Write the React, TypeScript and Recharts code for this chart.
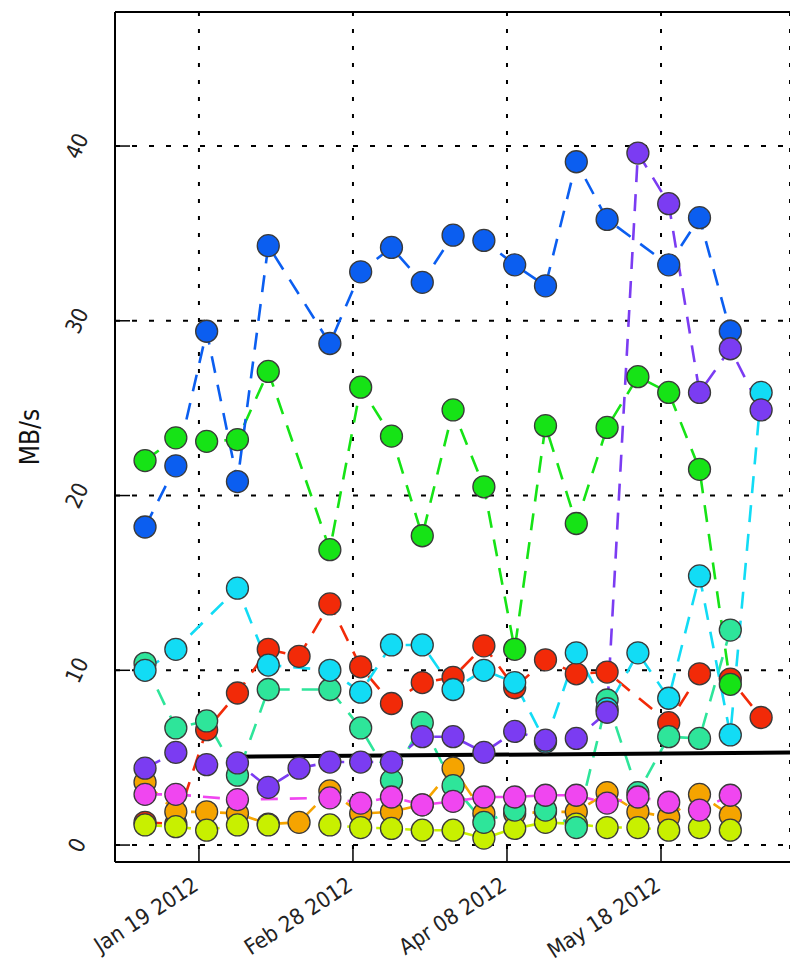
import { LineChart, Line, XAxis, YAxis, CartesianGrid, ReferenceLine } from 'recharts';

const FONT = '"DejaVu Sans Condensed", "Liberation Sans Narrow", "Liberation Sans", sans-serif';

// day of year 2012 (Jan 1 = 0), one sample every 8 days
const days = [4, 12, 20, 28, 36, 44, 52, 60, 68, 76, 84, 92, 100, 108, 116, 124, 132, 140, 148, 156, 164];

const tickDays = [18, 58, 98, 138];
const tickLabels = ['Jan 19 2012', 'Feb 28 2012', 'Apr 08 2012', 'May 18 2012'];
const yTicks = [0, 10, 20, 30, 40];

const red = [1.3, 1.2, 6.6, 8.7, 11.2, 10.8, 13.8, 10.2, 8.1, 9.3, 9.6, 11.4, 9.0, 10.6, 9.8, 9.9, null, 7.0, 9.8, 9.5, 7.3];
const orange = [3.6, 1.9, 1.9, 1.8, 1.2, 1.3, 3.1, 1.8, 1.9, 2.3, 4.4, 1.8, 1.8, 1.9, 1.9, 3.0, 1.9, 1.6, 2.9, 1.7, null];
const yellowGreen = [1.15, 1.05, 0.85, 1.15, 1.15, null, 1.15, 1.0, 0.95, 0.85, 0.85, 0.4, 0.95, 1.3, 1.2, 1.0, 1.0, 0.85, 1.0, 0.85, null];
const mint = [10.4, 6.7, 7.1, 4.0, 8.9, null, 8.9, 6.7, 3.7, 7.0, 3.4, 1.3, 2.0, 2.0, 1.0, 8.3, 3.0, 6.2, 6.1, 12.3, null];
const magenta = [2.9, 2.9, null, 2.6, null, null, 2.7, 2.4, 2.75, 2.3, 2.5, 2.75, 2.75, 2.85, 2.85, 2.4, 2.75, 2.45, 2.0, 2.85, null];
const cyan = [10.0, 11.2, null, 14.7, 10.3, null, 10.0, 8.75, 11.45, 11.45, 8.9, 10.0, 9.3, 5.9, 11.0, 7.8, 11.0, 8.4, 15.4, 6.3, 25.9];
const green = [22.0, 23.3, 23.1, 23.2, 27.1, null, 16.9, 26.2, 23.4, 17.7, 24.9, 20.5, 11.2, 24.0, 18.4, 23.9, 26.8, 25.9, 21.5, 9.2, null];
const blue = [18.2, 21.7, 29.4, 20.8, 34.3, null, 28.7, 32.8, 34.2, 32.2, 34.9, 34.6, 33.2, 32.0, 39.1, 35.8, null, 33.2, 35.9, 29.4, null];
const purple = [4.4, 5.3, 4.6, 4.7, 3.3, 4.4, 4.75, 4.75, 4.75, 6.2, 6.2, 5.3, 6.5, 6.0, 6.1, 7.6, 39.6, 36.7, 25.9, 28.4, 24.9];

// the stray black stroke drawn across the plot
const strokeDays = [26.5, 171.5];
const strokeValues = [5.05, 5.3];

const X_DOMAIN = [-3.8, 171.5];
const Y_DOMAIN = [-0.97, 47.67];

const series = [
  { key: 'red', color: '#f22a08', values: red },
  { key: 'orange', color: '#f5a400', values: orange },
  { key: 'yellowGreen', color: '#c8f000', values: yellowGreen },
  { key: 'mint', color: '#2ee59a', values: mint },
  { key: 'magenta', color: '#f046f0', values: magenta },
  { key: 'cyan', color: '#12dcf5', values: cyan },
  { key: 'green', color: '#16e316', values: green },
  { key: 'blue', color: '#0b5ef0', values: blue },
  { key: 'purple', color: '#7b3cf2', values: purple },
];

const data = days.map((day, i) => {
  const row: Record<string, number | null> = { day };
  series.forEach((s) => {
    row[s.key] = s.values[i];
  });
  return row;
});

const strokeData = strokeDays.map((day, i) => ({ day, v: strokeValues[i] }));

const X_MARGIN = 13;
const Y_MARGIN = 38;

function XTick({ x, y, payload }: any) {
  const idx = tickDays.indexOf(payload.value);
  const tx = x - 8;
  return (
    <g>
      <line x1={x} x2={x} y1={y - X_MARGIN} y2={y - X_MARGIN - 15} stroke="#000" strokeWidth={1.5} />
      <text
        x={tx}
        y={y}
        textAnchor="end"
        dy="0.75em"
        transform={`rotate(-33 ${tx} ${y})`}
        fontFamily={FONT}
        fontSize={22}
        fill="#222"
      >
        {tickLabels[idx]}
      </text>
    </g>
  );
}

function YTick({ x, y, payload }: any) {
  return (
    <g>
      <line x1={x + Y_MARGIN} x2={x + Y_MARGIN + 15} y1={y} y2={y} stroke="#000" strokeWidth={1.5} />
      <text
        x={x}
        y={y}
        textAnchor="middle"
        dominantBaseline="central"
        transform={`rotate(-65 ${x} ${y})`}
        fontFamily={FONT}
        fontSize={22}
        fill="#222"
      >
        {payload.value}
      </text>
    </g>
  );
}

export default function App() {
  return (
    <div style={{ position: 'absolute', left: 0, top: 0, background: '#fff' }}>
      <LineChart width={790} height={968} data={data} margin={{ top: 12, right: 0, bottom: 0, left: 0 }}>
        <CartesianGrid horizontal={false} stroke="#000" strokeWidth={2} strokeDasharray="4 13" />
        <CartesianGrid vertical={false} stroke="#000" strokeWidth={2} strokeDasharray="5 12" />
        <XAxis
          dataKey="day"
          type="number"
          domain={X_DOMAIN}
          ticks={tickDays}
          allowDataOverflow
          height={106}
          tickSize={0}
          tickMargin={X_MARGIN}
          tick={<XTick />}
          axisLine={{ stroke: '#000', strokeWidth: 2 }}
        />
        <YAxis
          type="number"
          domain={Y_DOMAIN}
          ticks={yTicks}
          allowDataOverflow
          width={115}
          tickSize={0}
          tickMargin={Y_MARGIN}
          tick={<YTick />}
          axisLine={{ stroke: '#000', strokeWidth: 2 }}
          label={{
            value: 'MB/s',
            angle: -90,
            position: 'insideLeft',
            offset: 30,
            style: { fontFamily: FONT, fontSize: 26, fill: '#111', textAnchor: 'middle' },
          }}
        />
        <ReferenceLine y={Y_DOMAIN[1]} stroke="#000" strokeWidth={2} />
        {series.map((s) => (
          <Line
            key={s.key}
            dataKey={s.key}
            stroke={s.color}
            strokeWidth={2.6}
            strokeDasharray="17 12"
            connectNulls
            isAnimationActive={false}
            dot={{ r: 11, fill: s.color, stroke: '#3a3a3a', strokeWidth: 1.3, strokeDasharray: 'none' }}
            activeDot={false}
          />
        ))}
        <Line
          data={strokeData}
          dataKey="v"
          stroke="#000"
          strokeWidth={4}
          dot={false}
          activeDot={false}
          isAnimationActive={false}
        />
      </LineChart>
    </div>
  );
}
